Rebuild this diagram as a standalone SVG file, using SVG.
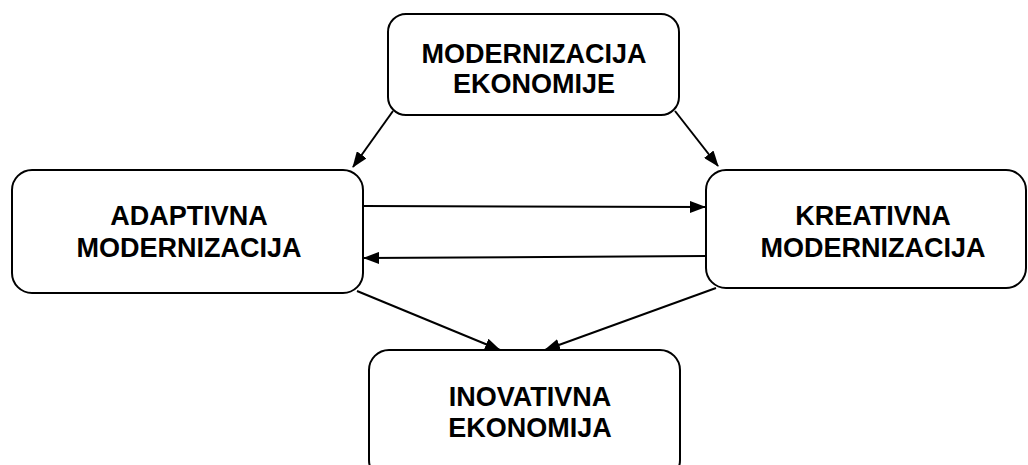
<svg xmlns="http://www.w3.org/2000/svg" width="1028" height="465" viewBox="0 0 1028 465">
<style>
.box{fill:#fff;stroke:#000;stroke-width:2}
.t{font-family:"Liberation Sans",Arial,sans-serif;font-weight:bold;font-size:27px;text-anchor:middle;fill:#000}
.c{stroke:#000;stroke-width:2;fill:none;marker-end:url(#ah)}
</style>
<defs>
<marker id="ah" markerWidth="16" markerHeight="12" refX="15" refY="6" orient="auto" markerUnits="userSpaceOnUse">
<path d="M0,0 L16,6 L0,12 Z" fill="#000"/>
</marker>
</defs>
<rect width="1028" height="465" fill="#fff"/>
<g id="connectors">
<line class="c" x1="393" y1="111" x2="353" y2="167"/>
<line class="c" x1="675" y1="111" x2="718" y2="166"/>
<line class="c" x1="363" y1="206" x2="705" y2="207"/>
<line class="c" x1="706" y1="256" x2="364" y2="258"/>
<line class="c" x1="357" y1="291" x2="500" y2="350"/>
<line class="c" x1="716" y1="288" x2="545" y2="350"/>
</g>
<g id="n1">
<rect class="box" x="388" y="14" width="291" height="101" rx="18"/>
<text class="t" x="534" y="63">MODERNIZACIJA</text>
<text class="t" x="534" y="93">EKONOMIJE</text>
</g>
<g id="n2">
<rect class="box" x="12" y="170" width="351" height="123" rx="20"/>
<text class="t" x="189" y="225">ADAPTIVNA</text>
<text class="t" x="189" y="257">MODERNIZACIJA</text>
</g>
<g id="n3">
<rect class="box" x="706" y="170" width="320" height="118" rx="20"/>
<text class="t" x="873" y="225">KREATIVNA</text>
<text class="t" x="873" y="257">MODERNIZACIJA</text>
</g>
<g id="n4">
<rect class="box" x="369" y="350" width="311" height="130" rx="20"/>
<text class="t" x="530" y="406">INOVATIVNA</text>
<text class="t" x="530" y="437">EKONOMIJA</text>
</g>
</svg>
